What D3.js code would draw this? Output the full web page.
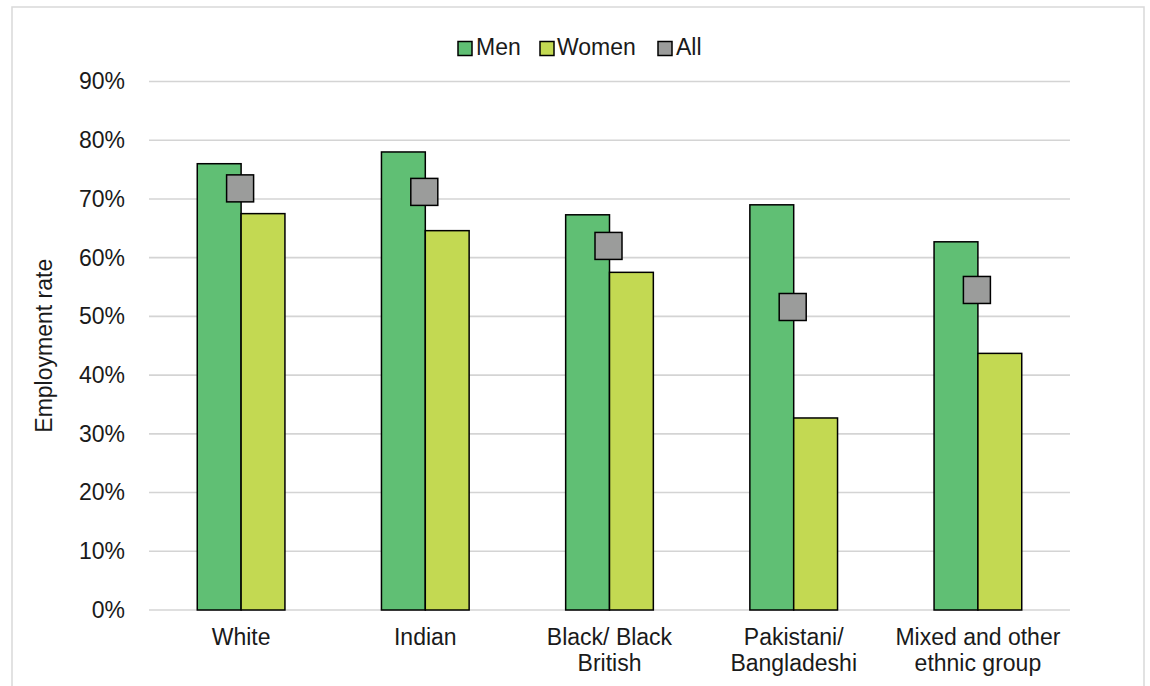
<!DOCTYPE html>
<html>
<head>
<meta charset="utf-8">
<script src="https://cdn.jsdelivr.net/npm/d3@7"></script>
<style>
  html, body { margin: 0; padding: 0; background: #ffffff; }
  svg { display: block; font-family: "Liberation Sans", Arial, sans-serif; }
</style>
</head>
<body>
<svg id="chart" width="1150" height="686"></svg>
<script>
const categories = [["White"], ["Indian"], ["Black/ Black", "British"], ["Pakistani/", "Bangladeshi"], ["Mixed and other", "ethnic group"]];
const men   = [76.0, 78.0, 67.3, 69.0, 62.7];
const women = [67.5, 64.6, 57.5, 32.7, 43.7];
const all   = [71.8, 71.2, 62.0, 51.6, 54.5];
const yTicks = [0, 10, 20, 30, 40, 50, 60, 70, 80, 90];
const seriesNames = ["Men", "Women", "All"];
const colors = { Men: "#60bf74", Women: "#c3d952", All: "#9b9c9b" };

const svg = d3.select("#chart");
const margin = { left: 149, right: 1070, top: 81.5, bottom: 610 };
const catKeys = categories.map((c, i) => i);

const x0 = d3.scaleBand().domain(catKeys).range([margin.left, margin.right])
  .paddingInner(0.524).paddingOuter(0.262);
const x1 = d3.scaleBand().domain(["Men", "Women"]).range([0, x0.bandwidth()]);
const y = d3.scaleLinear().domain([0, 90]).range([margin.bottom, margin.top]);

// chart border
svg.append("rect").attr("x", 12).attr("y", 7).attr("width", 1132).attr("height", 700)
  .attr("fill", "none").attr("stroke", "#d9d9d9").attr("stroke-width", 1.5);

// gridlines
svg.append("g").selectAll("line").data(yTicks).join("line")
  .attr("x1", margin.left).attr("x2", margin.right)
  .attr("y1", d => y(d)).attr("y2", d => y(d))
  .attr("stroke", "#d4d4d4").attr("stroke-width", 1.6);

// y axis labels
const yAxis = d3.axisLeft(y).tickValues(yTicks).tickFormat(d => d + "%").tickSize(0).tickPadding(24);
const ya = svg.append("g").attr("transform", `translate(${margin.left},0)`).call(yAxis);
ya.select(".domain").remove();
ya.selectAll("text").attr("font-size", 23).attr("fill", "#1a1a1a")
  .attr("font-family", "Liberation Sans, Arial, sans-serif");

// axis title
svg.append("text").attr("transform", `translate(52,${(margin.top + margin.bottom) / 2}) rotate(-90)`)
  .attr("text-anchor", "middle").attr("font-size", 23).attr("fill", "#1a1a1a")
  .text("Employment rate");

// bars
const groups = svg.append("g").selectAll("g").data(catKeys).join("g")
  .attr("transform", d => `translate(${x0(d)},0)`);
groups.append("rect").attr("x", x1("Men")).attr("width", x1.bandwidth())
  .attr("y", d => y(men[d])).attr("height", d => y(0) - y(men[d]))
  .attr("fill", colors.Men).attr("stroke", "#000").attr("stroke-width", 1.5);
groups.append("rect").attr("x", x1("Women")).attr("width", x1.bandwidth())
  .attr("y", d => y(women[d])).attr("height", d => y(0) - y(women[d]))
  .attr("fill", colors.Women).attr("stroke", "#000").attr("stroke-width", 1.5);

// All markers
const ms = 27;
svg.append("g").selectAll("rect").data(catKeys).join("rect")
  .attr("x", d => x0(d) + x0.bandwidth() / 2 - ms / 2 - 1)
  .attr("y", d => y(all[d]) - ms / 2)
  .attr("width", ms).attr("height", ms)
  .attr("fill", colors.All).attr("stroke", "#000").attr("stroke-width", 1.5);

// category labels
const xl = svg.append("g").selectAll("text").data(catKeys).join("text")
  .attr("x", d => x0(d) + x0.bandwidth() / 2)
  .attr("y", 645)
  .attr("text-anchor", "middle").attr("font-size", 23).attr("fill", "#1a1a1a");
xl.selectAll("tspan").data(d => categories[d].map(t => ({ t, cx: x0(d) + x0.bandwidth() / 2 })))
  .join("tspan").attr("x", t => t.cx).attr("dy", (t, i) => i === 0 ? 0 : 26).text(t => t.t);

// legend
const legendItems = [
  { name: "Men", sx: 458, tx: 476 },
  { name: "Women", sx: 540, tx: 557 },
  { name: "All", sx: 658, tx: 676 }
];
const lg = svg.append("g");
legendItems.forEach(it => {
  lg.append("rect").attr("x", it.sx).attr("y", 41.5).attr("width", 14).attr("height", 14)
    .attr("fill", colors[it.name]).attr("stroke", "#000").attr("stroke-width", 1.5);
  lg.append("text").attr("x", it.tx).attr("y", 55).attr("font-size", 23).attr("fill", "#1a1a1a").text(it.name);
});
</script>
</body>
</html>
